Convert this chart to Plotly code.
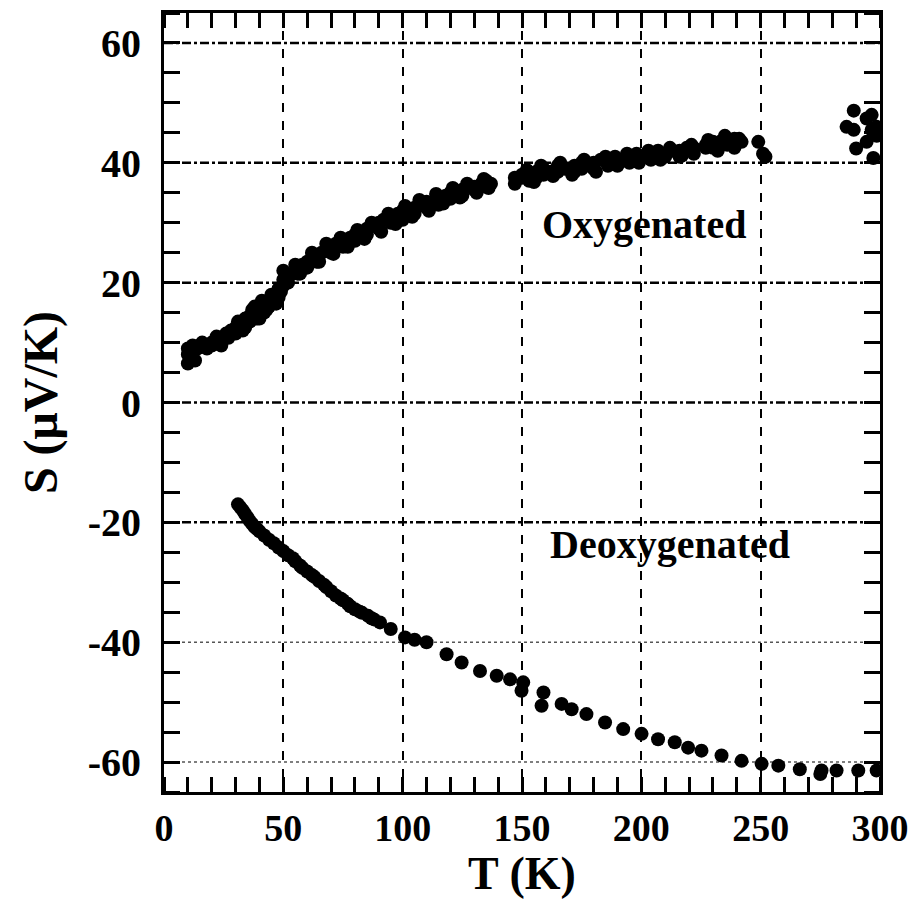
import plotly.graph_objects as go

# Oxygenated sample: T (K), S (uV/K)
oxy_T = [10, 10, 10, 11, 12, 12, 14, 16, 20, 20, 22, 24, 26, 28, 30, 30, 32, 34, 34, 36, 36, 38, 38,
         40, 40, 42, 42, 44, 44, 46, 48, 48, 50, 50, 50, 52, 52, 54, 56, 56, 58, 60, 60, 62, 64, 64,
         66, 68, 70, 70, 72, 75, 75, 78, 80, 80, 82, 85, 85, 88, 90, 90, 92, 95, 95, 98, 100, 100,
         103, 105, 105, 108, 110, 110, 113, 115, 115, 118, 120, 120, 123, 125, 125, 128, 130, 130,
         133, 135, 135, 137, 147, 147, 150, 150, 153, 153, 156, 156, 159, 159, 162, 165, 165, 168,
         172, 172, 175, 175, 178, 180, 180, 183, 186, 186, 189, 189, 192, 195, 195, 198, 198, 201,
         204, 204, 207, 210, 210, 213, 216, 216, 219, 222, 222, 227, 227, 230, 230, 233, 236, 236,
         239, 239, 242, 249, 251, 252,
         13, 15, 18, 23, 27, 31, 33, 37, 39, 41, 43, 45, 47, 49,
         55, 57, 62, 65, 68, 71, 74, 77, 81, 84, 87, 91, 94, 97, 101, 104, 107, 111, 114, 117, 121,
         124, 127, 131, 134, 136,
         152, 155, 158, 163, 166, 171, 176, 181, 185, 190, 194, 199, 203, 208, 212, 217, 221, 228,
         232, 235, 238, 241,
         286, 289, 289, 290, 294.4, 294.4, 296.5, 296.5, 297.2, 298.6, 298.6]
oxy_S = [6.5, 8, 9, 7.5, 8.5, 9.5, 9, 10, 10, 9.5, 11, 9.5, 11.5, 12, 12.5, 11.5, 13, 14, 12.5, 14.5, 13.5, 15, 16,
         15.5, 14, 16.5, 15, 17, 16, 17.5, 19, 17.5, 20.5, 19.5, 22, 21, 20, 21.5, 22.5, 21.5, 23, 23.5, 22.5, 24, 24.5, 23.5,
         25, 25.5, 26, 25, 26.5, 27, 26, 27.5, 28, 27, 28.5, 29, 28, 29.5, 30, 29, 30.5, 31, 30, 31.5, 32, 30.5,
         32, 32.5, 31.5, 33, 33.5, 32.5, 33.5, 34, 33, 34.5, 35, 34, 35, 35.5, 34.5, 36, 36, 35.5,
         36.5, 37, 36, 36.5, 36.5, 37.5, 37.5, 38, 38, 37, 38.5, 37.5, 39, 38, 38.5, 39.5, 38.5, 39,
         39.5, 38.5, 40, 39, 39.5, 40, 39, 40.5, 40, 39.5, 41, 40, 40.5, 41, 40, 41.5, 40.5, 41,
         41.5, 40.5, 42, 41.5, 41, 42, 42, 41, 42.5, 42.5, 41.5, 43, 42.5, 43.5, 42.5, 43.5, 44, 43,
         44, 42.5, 43.5, 43.5, 41.5, 41,
         7, 9.5, 9, 10.5, 10.8, 13.5, 12, 15.5, 14, 17, 15.5, 18, 16.5, 18.5,
         23, 21.5, 25, 23.5, 26.5, 24.8, 27.5, 26, 28.8, 27.3, 30, 28.5, 31.5, 29.8, 32.8, 31, 33.8, 32,
         34.8, 33.2, 35.8, 34.2, 36.5, 35, 37.3, 35.8,
         38.8, 36.8, 39.5, 37.8, 40, 38, 40.5, 38.5, 41, 39.5, 41.5, 40, 42, 40.5, 42.5, 41.2, 43, 43.8,
         42, 44.5, 43.2, 44,
         46, 48.7, 45.5, 42.4, 47.4, 43.5, 45.5, 48, 40.8, 46, 44.5]

# Deoxygenated sample
deoxy_T = [31, 32, 33, 34, 35, 36, 37, 38, 39, 40, 42, 44, 46, 48, 50, 52, 54, 55, 57, 58, 60, 62, 63, 65,
           67, 68, 70, 72, 74, 75, 77, 78, 80, 82, 83, 85.5, 87, 88, 90.5, 95, 101, 105, 110, 118.4,
           124.7, 132.4, 139.4, 145, 150.5, 149.8, 159, 158.2, 166.6, 170.8, 177, 184.8, 192.4, 200.1,
           207, 214, 219.6, 225.2, 233.6, 242, 250.4, 257.4, 266.4, 275.5, 275, 281.8, 290.9, 298.6]
deoxy_S = [-17, -17.5, -18, -18.6, -19.2, -19.8, -20.3, -20.8, -21.1, -21.5, -22.2, -22.9, -23.5, -24.2,
           -24.8, -25.5, -26, -26.5, -27.2, -27.6, -28.2, -28.8, -29.1, -29.8, -30.4, -30.8, -31.5, -32.2,
           -32.7, -33, -33.6, -34, -34.5, -34.9, -35.1, -35.6, -36, -36.2, -36.7, -37.8, -39.2, -39.6,
           -40, -42, -43.4, -44.8, -45.6, -46.2, -46.7, -48.1, -48.4, -50.6, -50.3, -51.2, -52, -53.4,
           -54.5, -55.3, -56.2, -56.7, -57.6, -58.1, -58.9, -59.8, -60.3, -60.6, -61.2, -61.4, -62,
           -61.4, -61.4, -61.4]

x_ticks = [0, 50, 100, 150, 200, 250, 300]
y_ticks = [-60, -40, -20, 0, 20, 40, 60]
y_ticklabels = ["-60", "-40", "-20", "0", "20", "40", "60"]
y_grid_dotted = [-40, -60]

label_text = ["Oxygenated", "Deoxygenated"]
label_x = [201, 212]
label_y = [29.7, -23.7]

serif = "Liberation Serif"

fig = go.Figure()
fig.add_trace(go.Scatter(x=oxy_T, y=oxy_S, mode="markers",
                         marker=dict(color="black", size=14, line=dict(width=0)),
                         showlegend=False))
fig.add_trace(go.Scatter(x=deoxy_T, y=deoxy_S, mode="markers",
                         marker=dict(color="black", size=14, line=dict(width=0)),
                         showlegend=False))
# invisible trace to carry the mirrored (top/right) tick axes
fig.add_trace(go.Scatter(x=[x_ticks[0]], y=[y_ticks[0]], xaxis="x2", yaxis="y2", mode="markers",
                         marker=dict(opacity=0), hoverinfo="skip", showlegend=False))

for v in y_ticks:
    dotted = v in y_grid_dotted
    fig.add_shape(type="line", xref="paper", yref="y", x0=0, x1=1, y0=v, y1=v,
                  layer="below",
                  line=dict(color="#555555" if dotted else "black",
                            width=1.5 if dotted else 2.5,
                            dash="dot" if dotted else "dashdot"))

for t, xx, yy in zip(label_text, label_x, label_y):
    fig.add_annotation(x=xx, y=yy, text=t, showarrow=False,
                       font=dict(family=serif, size=40, color="black", weight="bold"))

fig.update_layout(
    width=916, height=899,
    margin=dict(l=164, r=36, t=13, b=107, autoexpand=False),
    paper_bgcolor="white", plot_bgcolor="white",
    showlegend=False,
    xaxis=dict(
        range=[0, 300], tickvals=x_ticks, ticks="", showline=True, linecolor="black", linewidth=3,
        mirror=True, showgrid=True, gridcolor="black", gridwidth=2, griddash="dash", zeroline=False,
        ticklabelstandoff=0, automargin=False,
        tickfont=dict(family=serif, size=38, color="black", weight="bold"),
        minor=dict(dtick=10, ticks="inside", ticklen=15, tickwidth=2.5, tickcolor="black", showgrid=False),
        title=dict(text="T (K)", font=dict(family=serif, size=46, color="black", weight="bold")),
    ),
    yaxis=dict(
        range=[-65, 65], tickvals=y_ticks, ticktext=y_ticklabels, ticks="", showline=True,
        linecolor="black", linewidth=3, mirror=True, showgrid=False, zeroline=False,
        ticklabelstandoff=12, automargin=False,
        tickfont=dict(family=serif, size=40, color="black", weight="bold"),
        minor=dict(dtick=5, ticks="inside", ticklen=16, tickwidth=2.5, tickcolor="black", showgrid=False),
        title=dict(text="S (μV/K)", font=dict(family=serif, size=48, color="black", weight="bold")),
    ),
    xaxis2=dict(
        range=[0, 300], overlaying="x", side="top", anchor="y2", showticklabels=False, ticks="",
        showgrid=False, zeroline=False, showline=False, tickvals=x_ticks, automargin=False,
        minor=dict(dtick=10, ticks="inside", ticklen=15, tickwidth=2.5, tickcolor="black", showgrid=False),
    ),
    yaxis2=dict(
        range=[-65, 65], overlaying="y", side="right", anchor="x2", showticklabels=False, ticks="",
        showgrid=False, zeroline=False, showline=False, tickvals=y_ticks, automargin=False,
        minor=dict(dtick=5, ticks="inside", ticklen=16, tickwidth=2.5, tickcolor="black", showgrid=False),
    ),
)

fig.write_html("out.html")
